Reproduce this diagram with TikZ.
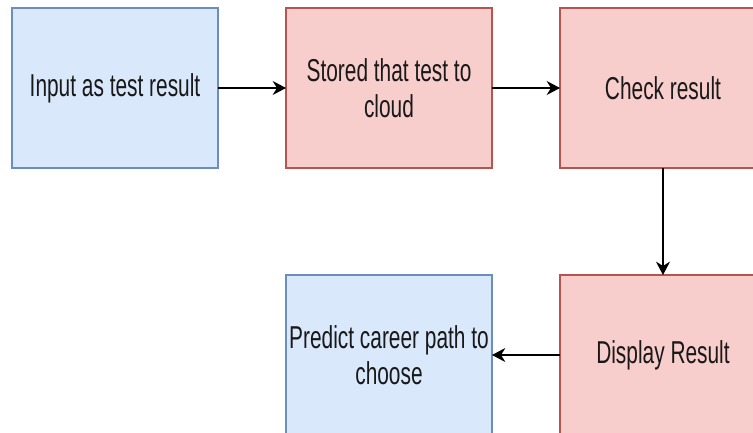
\documentclass[tikz,border=0pt]{standalone}
\usepackage{fontspec}
\setmainfont{Liberation Sans}[FakeStretch=0.66]
\usepackage{xcolor}
\usepackage{tikz}
\usetikzlibrary{positioning}
\usetikzlibrary{arrows.meta}

\definecolor{bluefill}{HTML}{DAE8FC}
\definecolor{blueline}{HTML}{6C8EBF}
\definecolor{redfill}{HTML}{F8CECC}
\definecolor{redline}{HTML}{B85450}

\tikzset{
	stage/.style={draw, rectangle, minimum width=6.18cm, minimum height=4.8cm, line width=0.9pt,
		font=\fontsize{27}{31}\selectfont, text=black!90, align=center, inner sep=0pt, outer sep=0pt},
	inbox/.style={stage, fill=bluefill, draw=blueline},
	procbox/.style={stage, fill=redfill, draw=redline},
	flow/.style={-{Stealth[length=0.4cm, width=0.42cm]}, line width=1.6pt},
}

\begin{document}
\begin{tikzpicture}[node distance=2.04cm]
					\useasboundingbox (0,0) rectangle (22.59,12.99);
					\clip (0,0) rectangle (22.59,12.99);

					\node[inbox] at (3.45,10.35)           (IN) {Input as test result};
					\node[procbox, right=of IN]            (ST) {Stored that test to\\cloud};
					\node[procbox, right=of ST]            (CR) {Check result};
					\node[procbox, below=3.21cm of CR]     (DR) {Display Result};
					\node[inbox, left=of DR]               (PC) {Predict career path to\\choose};

					% Connect the nodes
					\draw[flow] (IN) -- (ST);
					\draw[flow] (ST) -- (CR);
					\draw[flow] (CR) -- (DR);
					\draw[flow] (DR) -- (PC);
					\end{tikzpicture}
\end{document}
